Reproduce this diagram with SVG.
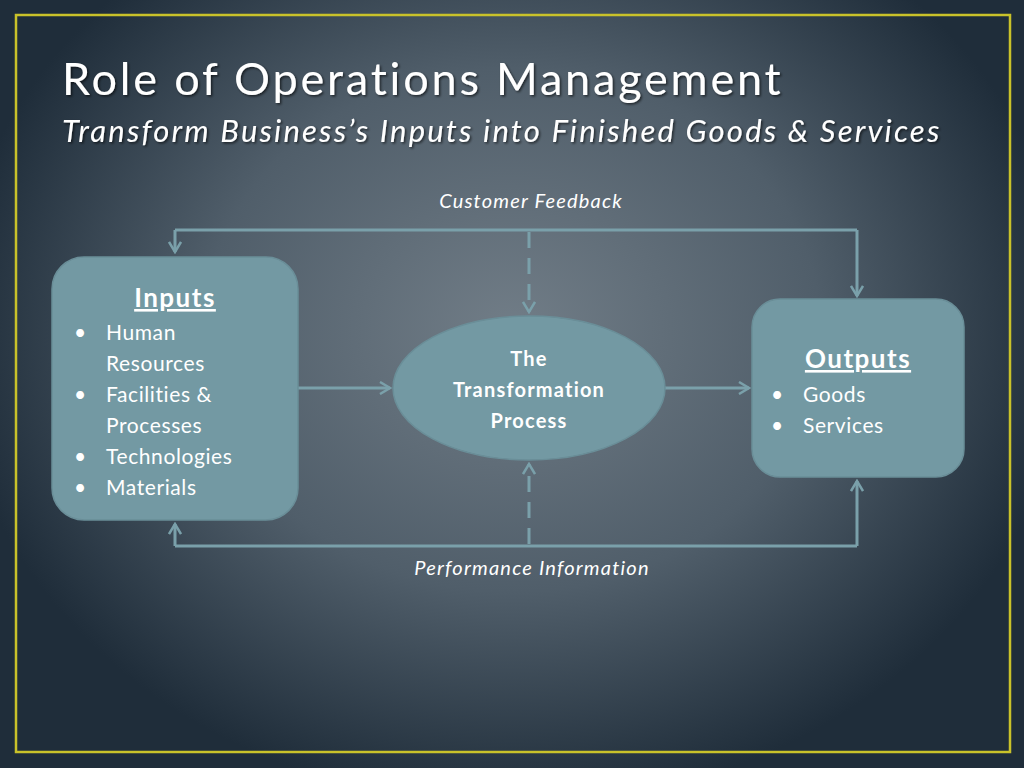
<svg xmlns="http://www.w3.org/2000/svg" width="1024" height="768" viewBox="0 0 1024 768">
<defs>
<radialGradient id="bg" cx="512" cy="330" r="560" gradientUnits="userSpaceOnUse" gradientTransform="translate(512 330) scale(1 0.85) translate(-512 -330)">
<stop offset="0" stop-color="#717d87"/>
<stop offset="0.55" stop-color="#505e6a"/>
<stop offset="1" stop-color="#1f2d3a"/>
</radialGradient>
<marker id="ah" viewBox="0 0 14 14" refX="12" refY="7" markerWidth="14" markerHeight="14" markerUnits="userSpaceOnUse" orient="auto">
<polyline points="2,1 12,7 2,13" fill="none" stroke="#7aa0aa" stroke-width="2.5"/>
</marker>
<filter id="sh" x="-5%" y="-20%" width="110%" height="140%">
<feDropShadow dx="1.5" dy="1.5" stdDeviation="1" flood-color="#000" flood-opacity="0.6"/>
</filter>
</defs>
<style>
.node{fill:#7399a3;stroke:#6a8e98;stroke-width:1.5}
.t{font-family:"Lato","Open Sans","DejaVu Sans",sans-serif;fill:#ffffff}
.lbl{font-family:"Lato","Open Sans",sans-serif;font-style:italic;font-size:20px;letter-spacing:1.2px;fill:#ffffff;text-anchor:middle}
.c{fill:none;stroke:#7aa0aa;stroke-width:3}
.d{stroke-dasharray:16 10}
.item{font-size:21px;letter-spacing:0.6px}
.hd{font-size:26px;font-weight:bold;letter-spacing:1.5px;text-anchor:middle;text-decoration:underline}
</style>
<rect width="1024" height="768" fill="url(#bg)"/>
<rect x="16" y="15" width="994" height="737" fill="none" stroke="#c9c22a" stroke-width="2.5"/>
<g id="title" filter="url(#sh)">
<text class="t" x="62" y="95" font-size="45" letter-spacing="2.8">Role of Operations Management</text>
<text class="t" x="62" y="142" font-size="31" font-style="italic" letter-spacing="2.2">Transform Business’s Inputs into Finished Goods &amp; Services</text>
</g>
<g id="connectors">
<polyline class="c" points="175,230 857,230"/>
<line class="c" x1="175" y1="230" x2="175" y2="252" marker-end="url(#ah)"/>
<line class="c" x1="857" y1="230" x2="857" y2="296" marker-end="url(#ah)"/>
<line class="c d" x1="529" y1="232" x2="529" y2="312" marker-end="url(#ah)"/>
<line class="c" x1="298" y1="388" x2="390" y2="388" marker-end="url(#ah)"/>
<line class="c" x1="665" y1="388" x2="749" y2="388" marker-end="url(#ah)"/>
<polyline class="c" points="175,546 857,546"/>
<line class="c" x1="175" y1="546" x2="175" y2="524" marker-end="url(#ah)"/>
<line class="c" x1="857" y1="546" x2="857" y2="481" marker-end="url(#ah)"/>
<line class="c d" x1="529" y1="544" x2="529" y2="464" marker-end="url(#ah)"/>
<text class="lbl" x="531" y="208">Customer Feedback</text>
<text class="lbl" x="532" y="575">Performance Information</text>
</g>
<g id="inputs">
<rect class="node" x="52" y="257" width="246" height="263" rx="32"/>
<text class="t hd" x="175" y="307">Inputs</text>
<g class="t item">
<text x="74" y="340">•</text><text x="106" y="340">Human</text>
<text x="106" y="371">Resources</text>
<text x="74" y="402">•</text><text x="106" y="402">Facilities &amp;</text>
<text x="106" y="433">Processes</text>
<text x="74" y="464">•</text><text x="106" y="464">Technologies</text>
<text x="74" y="495">•</text><text x="106" y="495">Materials</text>
</g>
</g>
<g id="transformation">
<ellipse class="node" cx="529" cy="388" rx="136" ry="72"/>
<g class="t" font-size="20" font-weight="bold" letter-spacing="1.2" text-anchor="middle">
<text x="529" y="366">The</text>
<text x="529" y="397">Transformation</text>
<text x="529" y="428">Process</text>
</g>
</g>
<g id="outputs">
<rect class="node" x="752" y="299" width="212" height="178" rx="28"/>
<text class="t hd" x="858" y="368">Outputs</text>
<g class="t item">
<text x="771" y="402">•</text><text x="803" y="402">Goods</text>
<text x="771" y="433">•</text><text x="803" y="433">Services</text>
</g>
</g>
</svg>
